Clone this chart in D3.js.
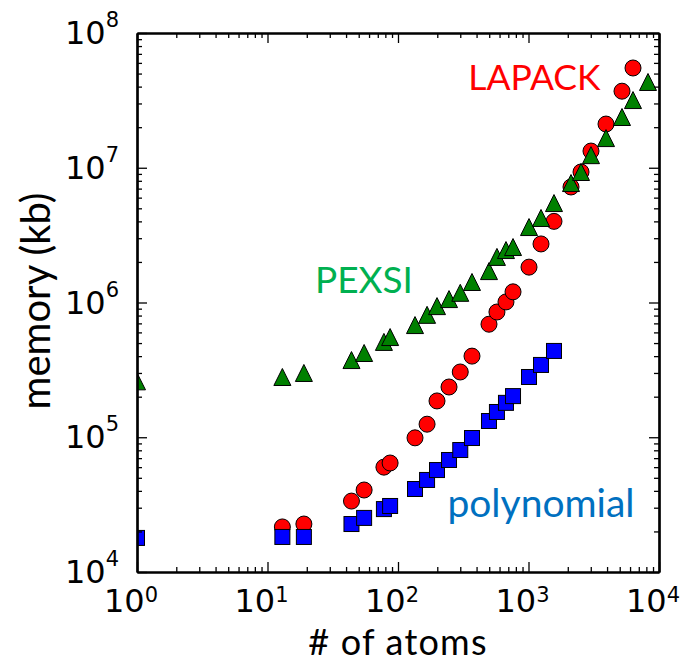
<!DOCTYPE html>
<html>
<head>
<meta charset="utf-8">
<script src="https://cdn.jsdelivr.net/npm/d3@7"></script>
<style>
    body { margin: 0; background-color: #FFF; }
</style>
</head>
<body>
<div class="graph__canvas"></div>
<script>
/* Memory use against system size, log-log */

//Number of atoms and memory (kb) for each method
var lapackAtoms = [13, 19, 44, 55, 78, 87, 135, 167, 199, 246, 300, 369, 498, 573, 672, 761, 1009, 1247, 1568, 2117, 2526, 3012, 3926, 5205, 6321];
var lapackMemory = [2.16e4, 2.27e4, 3.36e4, 4.06e4, 6.0e4, 6.44e4, 9.9e4, 1.25e5, 1.86e5, 2.36e5, 3.05e5, 4.0e5, 6.9e5, 8.5e5, 1.01e6, 1.2e6, 1.83e6, 2.72e6, 4.0e6, 7.2e6, 9.3e6, 1.33e7, 2.11e7, 3.7e7, 5.5e7];

var pexsiAtoms = [1, 13, 19, 44, 55, 78, 87, 135, 167, 199, 246, 300, 369, 498, 573, 672, 761, 1009, 1247, 1568, 2117, 2526, 3012, 3926, 5205, 6321, 8235];
var pexsiMemory = [2.6e5, 2.8e5, 3.0e5, 3.74e5, 4.22e5, 5.1e5, 5.54e5, 6.8e5, 8.1e5, 9.4e5, 1.06e6, 1.18e6, 1.42e6, 1.71e6, 2.18e6, 2.45e6, 2.58e6, 3.63e6, 4.24e6, 5.47e6, 7.7e6, 9.3e6, 1.24e7, 1.66e7, 2.38e7, 3.18e7, 4.33e7];

var polyAtoms = [1, 13, 19, 44, 55, 78, 87, 135, 167, 199, 246, 300, 369, 498, 573, 672, 761, 1009, 1247, 1568];
var polyMemory = [1.79e4, 1.82e4, 1.82e4, 2.27e4, 2.52e4, 2.93e4, 3.09e4, 4.13e4, 4.82e4, 5.71e4, 6.78e4, 8.04e4, 9.87e4, 1.32e5, 1.54e5, 1.8e5, 2.02e5, 2.8e5, 3.44e5, 4.37e5];

//Decade ticks and their exponent labels
var xDecades = [1, 10, 100, 1000, 10000];
var xExponents = ["0", "1", "2", "3", "4"];
var yDecades = [1e4, 1e5, 1e6, 1e7, 1e8];
var yExponents = ["4", "5", "6", "7", "8"];

//Series names, written next to the points (anchor is in data units)
var seriesNames = ["LAPACK", "PEXSI", "polynomial"];
var seriesColors = ["#FF0000", "#00B050", "#0070C0"];
var nameAnchors = [[345, 3.78e7], [23.1, 1.18e6], [239, 2.56e4]];
var nameSizes = [35.5, 37, 39];

var configuration = {
    width: 685,
    height: 663,
    left: 137,
    right: 659,
    top: 33,
    bottom: 572
};
Object.freeze(configuration);

//Create SVG element
var svg = d3.select(".graph__canvas")
    .append("svg")
        .attr("width", configuration.width)
        .attr("height", configuration.height)
        .style("background-color", "#FFF");

//Create x and y scale
var scaleX = d3.scaleLog()
    .domain([1, 1e4])
    .range([configuration.left, configuration.right]);

var scaleY = d3.scaleLog()
    .domain([1e4, 1e8])
    .range([configuration.bottom, configuration.top]);

//Minor ticks 2..9 in every decade
function minorTicks(decades) {
    var ticks = [];
    decades.slice(0, -1).forEach(function(d) {
        for (var k = 2; k < 10; k++) ticks.push(d * k);
    });
    return ticks;
}

//Clip the markers to the plot area
svg.append("clipPath")
        .attr("id", "plot-clip")
    .append("rect")
        .attr("x", configuration.left)
        .attr("y", configuration.top)
        .attr("width", configuration.right - configuration.left)
        .attr("height", configuration.bottom - configuration.top);

var points = svg.append("g").attr("clip-path", "url(#plot-clip)");

//LAPACK circles
points.append("g")
    .selectAll("circle")
    .data(d3.zip(lapackAtoms, lapackMemory))
    .join("circle")
        .attr("cx", function(d) { return scaleX(d[0]); })
        .attr("cy", function(d) { return scaleY(d[1]); })
        .attr("r", 8)
        .attr("fill", "#FF0000")
        .attr("stroke", "#000")
        .attr("stroke-width", 1);

//PEXSI triangles (centered on their bounding box, like matplotlib)
var h = 8.5;
points.append("g")
    .selectAll("path")
    .data(d3.zip(pexsiAtoms, pexsiMemory))
    .join("path")
        .attr("d", `M0,${-h}L${h},${h}L${-h},${h}Z`)
        .attr("transform", function(d) { return `translate(${scaleX(d[0])}, ${scaleY(d[1])})`; })
        .attr("fill", "#008000")
        .attr("stroke", "#000")
        .attr("stroke-width", 1);

//Polynomial squares
var s = 15;
points.append("g")
    .selectAll("rect")
    .data(d3.zip(polyAtoms, polyMemory))
    .join("rect")
        .attr("x", function(d) { return scaleX(d[0]) - s / 2; })
        .attr("y", function(d) { return scaleY(d[1]) - s / 2; })
        .attr("width", s)
        .attr("height", s)
        .attr("fill", "#0000FF")
        .attr("stroke", "#000")
        .attr("stroke-width", 1);

//Draw the frame: ticks inward on all four sides
function drawSide(axis, transform) {
    var g = svg.append("g").attr("transform", transform);
    g.call(axis);
    g.selectAll("text").remove();
    g.select(".domain").attr("stroke-width", 2.2);
    g.selectAll(".tick line").attr("stroke-width", 1.3);
    return g;
}

[
    [d3.axisBottom, scaleX, xDecades, `translate(0, ${configuration.bottom})`],
    [d3.axisTop, scaleX, xDecades, `translate(0, ${configuration.top})`],
    [d3.axisLeft, scaleY, yDecades, `translate(${configuration.left}, 0)`],
    [d3.axisRight, scaleY, yDecades, `translate(${configuration.right}, 0)`]
].forEach(function(side) {
    drawSide(side[0](side[1]).tickValues(minorTicks(side[2])).tickSize(-5).tickSizeOuter(0), side[3]);
    drawSide(side[0](side[1]).tickValues(side[2]).tickSize(-10).tickSizeOuter(0), side[3]);
});

//Tick labels as 10 with a superscript exponent
var tickFont = "'DejaVu Sans', sans-serif";

var xLabels = svg.append("g")
    .selectAll("text")
    .data(d3.zip(xDecades, xExponents))
    .join("text")
        .attr("x", function(d) { return scaleX(d[0]) - 33; })
        .attr("y", configuration.bottom + 40)
        .style("font-family", tickFont)
        .style("font-size", "32px")
        .text("10");
xLabels.append("tspan")
    .attr("dy", -10)
    .style("font-size", "21px")
    .text(function(d) { return d[1]; });

var yLabels = svg.append("g")
    .selectAll("text")
    .data(d3.zip(yDecades, yExponents))
    .join("text")
        .attr("x", configuration.left - 18)
        .attr("y", function(d) { return scaleY(d[0]) + 11; })
        .attr("text-anchor", "end")
        .style("font-family", tickFont)
        .style("font-size", "32px")
        .text("10");
yLabels.append("tspan")
    .attr("dy", -17)
    .style("font-size", "21px")
    .text(function(d) { return d[1]; });

//Axis titles
var titleFont = "Lato, 'Open Sans', sans-serif";

svg.append("text")
    .attr("x", 398)
    .attr("y", 655)
    .attr("text-anchor", "middle")
    .style("font-family", titleFont)
    .style("font-size", "36px")
    .style("letter-spacing", "1.2px")
    .text("# of atoms");

svg.append("text")
    .attr("transform", "translate(50, 301) rotate(-90)")
    .attr("text-anchor", "middle")
    .style("font-family", titleFont)
    .style("font-size", "40px")
    .text("memory (kb)");

//Series names
svg.append("g")
    .selectAll("text")
    .data(d3.zip(seriesNames, seriesColors, nameAnchors, nameSizes))
    .join("text")
        .attr("x", function(d) { return scaleX(d[2][0]); })
        .attr("y", function(d) { return scaleY(d[2][1]); })
        .attr("fill", function(d) { return d[1]; })
        .style("font-family", titleFont)
        .style("font-size", function(d) { return d[3] + "px"; })
        .text(function(d) { return d[0]; });
</script>
</body>
</html>
